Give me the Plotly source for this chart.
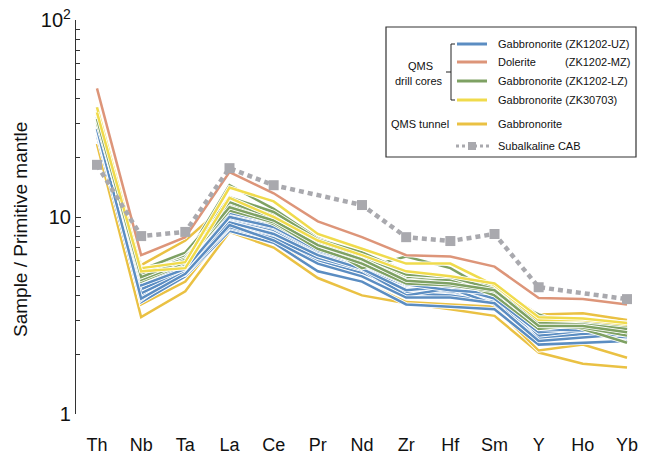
import plotly.graph_objects as go

elements = ["Th", "Nb", "Ta", "La", "Ce", "Pr", "Nd", "Zr", "Hf", "Sm", "Y", "Ho", "Yb"]

# Gabbronorite (ZK1202-UZ)
uz_samples = [
    [31, 4.2, 5.4, 9.6, 8.4, 6.5, 5.6, 4.4, 4.3, 4.0, 2.7, 2.75, 2.7],
    [28, 3.9, 5.2, 9.0, 7.9, 6.1, 5.3, 4.2, 4.1, 3.8, 2.55, 2.6, 2.6],
    [32, 4.6, 5.6, 10.2, 9.0, 6.9, 5.9, 4.7, 4.5, 4.2, 2.8, 2.85, 2.8],
    [26, 3.7, 5.0, 8.5, 7.4, 5.3, 4.7, 3.6, 3.5, 3.4, 2.25, 2.3, 2.35],
    [30, 4.9, 5.7, 9.3, 8.1, 6.3, 5.5, 4.5, 4.4, 4.1, 2.65, 2.7, 2.65],
    [29, 4.4, 5.1, 8.8, 7.7, 5.9, 5.2, 4.1, 4.0, 3.7, 2.45, 2.5, 2.5],
    [31, 5.0, 5.8, 10.5, 9.4, 7.1, 6.1, 4.9, 4.7, 4.3, 2.9, 2.95, 2.85],
    [27, 4.0, 5.3, 9.2, 8.0, 6.0, 5.2, 4.3, 4.2, 3.9, 2.6, 2.65, 2.75],
    [30, 3.8, 5.5, 9.8, 8.6, 6.6, 5.7, 4.6, 4.6, 4.3, 2.5, 2.6, 2.55],
    [28.5, 4.3, 5.35, 8.9, 7.8, 6.2, 5.4, 4.0, 4.35, 3.6, 2.4, 2.55, 2.45],
    [29.5, 4.7, 5.6, 9.9, 8.8, 6.7, 5.8, 4.8, 4.5, 4.0, 2.75, 2.8, 2.9],
    [27.5, 4.1, 5.25, 9.4, 8.2, 6.4, 5.45, 4.25, 4.45, 3.85, 2.6, 2.7, 2.6],
    [30.5, 4.5, 5.45, 10.0, 8.9, 6.8, 5.75, 4.55, 4.25, 4.1, 2.7, 2.65, 2.7],
    [28, 3.85, 5.15, 9.1, 7.6, 5.8, 5.0, 3.9, 3.9, 3.65, 2.35, 2.45, 2.55],
]

# Gabbronorite (ZK1202-LZ)
lz_samples = [
    [33, 5.0, 6.2, 14.5, 11.0, 7.8, 6.5, 5.2, 4.9, 4.3, 2.9, 2.8, 2.65],
    [35, 5.2, 6.4, 12.3, 10.3, 7.6, 6.4, 5.0, 4.8, 4.2, 2.8, 2.75, 2.6],
    [31, 4.9, 6.0, 11.6, 9.8, 7.3, 6.2, 4.9, 4.7, 4.1, 2.75, 2.8, 2.7],
    [34, 5.4, 6.6, 12.0, 10.0, 7.4, 5.5, 6.3, 5.5, 4.1, 3.2, 2.7, 2.3],
    [32, 4.7, 5.8, 11.0, 9.5, 7.1, 6.0, 4.8, 4.6, 4.4, 2.85, 2.9, 2.75],
    [30, 5.1, 6.3, 11.3, 9.2, 7.0, 5.9, 4.7, 4.8, 4.0, 2.7, 2.85, 2.55],
    [36, 5.3, 6.1, 12.6, 10.6, 7.7, 6.6, 5.3, 5.0, 4.4, 3.0, 2.9, 2.8],
    [32, 4.8, 5.9, 10.8, 9.4, 6.9, 5.8, 4.6, 4.5, 4.2, 2.8, 2.75, 2.5],
    [33.5, 5.15, 6.15, 11.9, 9.9, 7.5, 6.3, 5.1, 4.95, 4.3, 2.9, 2.85, 2.7],
    [31.5, 4.95, 6.05, 11.2, 9.6, 7.2, 6.1, 4.75, 4.6, 4.25, 2.8, 2.8, 2.6],
]

# Gabbronorite (ZK30703)
zk30703_samples = [
    [36, 5.5, 5.9, 14.1, 12.0, 8.2, 6.9, 5.8, 5.8, 4.5, 3.0, 3.0, 2.85],
    [34, 5.3, 5.5, 12.5, 10.0, 7.6, 6.4, 5.3, 5.0, 4.6, 3.1, 3.05, 2.9],
]

# QMS tunnel gabbronorite
tunnel_samples = [
    [23.5, 3.1, 4.2, 8.4, 7.0, 4.9, 4.0, 3.65, 3.4, 3.15, 2.05, 1.8, 1.72],
    [35, 3.6, 4.7, 9.0, 7.6, 5.3, 4.7, 3.7, 3.6, 3.5, 2.1, 2.25, 1.93],
    [29, 5.7, 7.6, 12.0, 10.2, 7.4, 6.2, 5.0, 4.8, 4.4, 3.2, 3.25, 3.0],
    [34, 5.3, 5.6, 9.5, 8.7, 6.8, 5.8, 4.6, 4.8, 4.6, 3.0, 2.95, 2.9],
    [32, 4.8, 5.5, 9.4, 8.3, 6.6, 5.3, 4.5, 4.5, 4.5, 2.9, 3.0, 2.7],
]

# Dolerite (ZK1202-MZ)
dolerite = [45, 6.4, 7.9, 16.9, 13.2, 9.5, 7.9, 6.4, 6.3, 5.6, 3.88, 3.83, 3.6]

# Subalkaline CAB
cab = [18.4, 8.0, 8.4, 17.7, 14.5, None, 11.5, 7.9, 7.55, 8.2, 4.4, None, 3.83]

y_ticks = [1, 10, 100]
y_ticktext = ["1", "10", "10<sup>2</sup>"]

C_UZ = "#5B8DC2"
C_MZ = "#DD9579"
C_LZ = "#7EA163"
C_ZK3 = "#F0DB4C"
C_TUN = "#EAC143"
C_CAB = "#A9A9AE"

fig = go.Figure()


def add_sample(vals, color):
    fig.add_trace(go.Scatter(x=elements, y=vals, mode="lines",
                             line=dict(color="white", width=4.2),
                             hoverinfo="skip", showlegend=False))
    fig.add_trace(go.Scatter(x=elements, y=vals, mode="lines",
                             line=dict(color=color, width=2.5),
                             showlegend=False))


for s in tunnel_samples:
    add_sample(s, C_TUN)
for s in uz_samples:
    add_sample(s, C_UZ)
for s in lz_samples:
    add_sample(s, C_LZ)
for s in zk30703_samples:
    add_sample(s, C_ZK3)
add_sample(dolerite, C_MZ)

fig.add_trace(go.Scatter(x=elements, y=cab, mode="lines+markers", connectgaps=True,
                         line=dict(color=C_CAB, width=4.5, dash="5px,4px"),
                         marker=dict(symbol="square", size=10, color=C_CAB),
                         showlegend=False))

# pixel -> paper helpers (plot area: x 76..648, y 20..414)
L, R, T, B = 76, 648, 20, 414


def px(xp):
    return (xp - L) / (R - L)


def py(yp):
    return (B - yp) / (B - T)


shapes = []
annotations = []

# legend box
shapes.append(dict(type="rect", xref="paper", yref="paper",
                   x0=px(386), x1=px(636), y0=py(27), y1=py(157),
                   line=dict(color="#333333", width=1.2), fillcolor="white"))

rows = [
    (44, C_UZ, "Gabbronorite (ZK1202-UZ)"),
    (62, C_MZ, "Dolerite"),
    (81, C_LZ, "Gabbronorite (ZK1202-LZ)"),
    (100, C_ZK3, "Gabbronorite (ZK30703)"),
    (124, C_TUN, "Gabbronorite"),
]
lf = dict(family="Liberation Sans, Arial, sans-serif", size=11, color="#111111")
for yy, col, txt in rows:
    shapes.append(dict(type="line", xref="paper", yref="paper",
                       x0=px(457), x1=px(487), y0=py(yy), y1=py(yy),
                       line=dict(color=col, width=3)))
    annotations.append(dict(xref="paper", yref="paper", x=px(496), y=py(yy),
                            text=txt, showarrow=False, xanchor="left",
                            yanchor="middle", font=lf))
annotations.append(dict(xref="paper", yref="paper", x=px(563), y=py(62),
                        text="(ZK1202-MZ)", showarrow=False, xanchor="left",
                        yanchor="middle", font=lf))
# CAB legend sample
shapes.append(dict(type="line", xref="paper", yref="paper",
                   x0=px(456), x1=px(490), y0=py(146), y1=py(146),
                   line=dict(color=C_CAB, width=3, dash="3px,3px")))
shapes.append(dict(type="rect", xref="paper", yref="paper",
                   x0=px(468), x1=px(476), y0=py(142), y1=py(150),
                   line=dict(width=0), fillcolor=C_CAB))
annotations.append(dict(xref="paper", yref="paper", x=px(496), y=py(146),
                        text="Subalkaline CAB", showarrow=False, xanchor="left",
                        yanchor="middle", font=lf))
# group labels
annotations.append(dict(xref="paper", yref="paper", x=px(420), y=py(66),
                        text="QMS", showarrow=False,
                        xanchor="center", yanchor="middle", font=lf))
annotations.append(dict(xref="paper", yref="paper", x=px(419), y=py(81),
                        text="drill cores", showarrow=False,
                        xanchor="center", yanchor="middle", font=lf))
annotations.append(dict(xref="paper", yref="paper", x=px(420), y=py(124),
                        text="QMS tunnel", showarrow=False,
                        xanchor="center", yanchor="middle", font=lf))
# bracket
bk = dict(color="#222222", width=1)
for (x0, y0, x1, y1) in [(451, 44, 451, 100), (451, 44, 455, 44),
                         (451, 100, 455, 100), (446, 72, 451, 72)]:
    shapes.append(dict(type="line", xref="paper", yref="paper",
                       x0=px(x0), x1=px(x1), y0=py(y0), y1=py(y1), line=bk))

# y-axis title
annotations.append(dict(xref="paper", yref="paper", x=px(21), y=py(230),
                        text="Sample / Primitive mantle", textangle=-90,
                        showarrow=False, xanchor="center", yanchor="middle",
                        font=dict(family="Liberation Sans, Arial, sans-serif",
                                  size=19, color="#111111")))

fig.update_layout(
    width=651, height=460,
    margin=dict(l=L, r=651 - R, t=T, b=460 - B),
    paper_bgcolor="white", plot_bgcolor="white",
    font=dict(family="Liberation Sans, Arial, sans-serif", color="#111111"),
    shapes=shapes, annotations=annotations, showlegend=False,
    xaxis=dict(range=[-0.475, 12.475], showgrid=False, zeroline=False,
               showline=False, ticks="", tickfont=dict(size=18),
               ticklabelstandoff=18),
    yaxis=dict(type="log", range=[0, 2], showgrid=False, zeroline=False,
               showline=True, linecolor="#333333", linewidth=1.2,
               tickvals=y_ticks, ticktext=y_ticktext, ticks="inside",
               ticklen=5, tickcolor="#333333", tickfont=dict(size=20),
               minor=dict(ticks="inside", ticklen=4, tickcolor="#333333",
                          tickvals=[2, 3, 4, 5, 6, 7, 8, 9,
                                    20, 30, 40, 50, 60, 70, 80, 90])),
)

fig.write_html("out.html")
